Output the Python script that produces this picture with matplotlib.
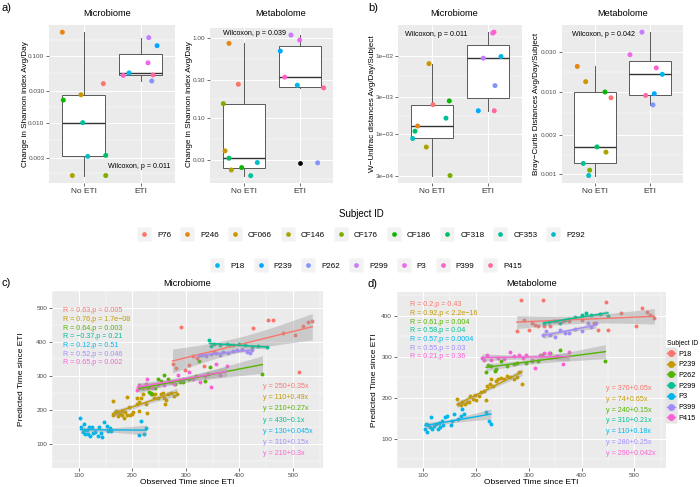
import numpy as np
import matplotlib.pyplot as plt
from matplotlib import cbook
from matplotlib.lines import Line2D
from matplotlib.legend_handler import HandlerTuple
from matplotlib.ticker import NullFormatter

plt.rcParams['font.family'] = ['Liberation Sans', 'DejaVu Sans']

groups = ['No ETI', 'ETI']
subjects = ['P76', 'P246', 'CF066', 'CF146', 'CF176', 'CF186', 'CF318', 'CF353', 'P292',
            'P18', 'P239', 'P262', 'P299', 'P3', 'P399', 'P415']
no_eti = subjects[:9]
eti = subjects[9:]

# a) change in Shannon index, per subject (order of `subjects`), plus jittered x
a_mic_val = [0.0385, 0.228, 0.0262, 0.00161, 0.00161, 0.0218, 0.00323, 0.010, 0.00312,
             0.0558, 0.143, 0.0422, 0.189, 0.079, 0.0511, 0.052]
a_mic_x = [1.346, 0.628, 0.955, 0.803, 1.388, 0.645, 1.388, 0.985, 1.073,
           1.796, 2.286, 2.193, 2.141, 2.128, 1.696, 2.216]
a_met_val = [0.264, 0.857, 0.0388, 0.0224, 0.151, 0.024, 0.0314, 0.019, 0.0277,
             0.257, 0.687, 0.0275, 1.09, 0.944, 0.324, 0.238]
a_met_x = [0.905, 0.739, 0.668, 0.78, 0.638, 0.965, 0.739, 1.126, 1.244,
           1.958, 1.654, 2.321, 1.845, 2.0, 1.733, 2.428]
# b) distances
b_mic_val = [0.00239, 0.00128, 0.00795, 0.000691, 0.0003, 0.00267, 0.0011, 0.00161, 0.000888,
             0.0098, 0.002, 0.00418, 0.00933, 0.01945, 0.02, 0.002]
b_mic_x = [1.019, 0.746, 0.947, 0.899, 1.322, 1.309, 0.698, 1.25, 0.657,
           2.231, 1.826, 2.124, 1.915, 2.083, 2.106, 2.111]
b_met_val = [0.00843, 0.0202, 0.0132, 0.00185, 0.00112, 0.0099, 0.00214, 0.00135, 0.000964,
             0.0162, 0.00944, 0.00691, 0.0525, 0.028, 0.0194, 0.009]
b_met_x = [1.292, 0.682, 0.834, 1.201, 0.906, 1.183, 1.038, 0.791, 0.888,
           2.219, 2.075, 2.051, 1.852, 1.635, 2.111, 1.919]

# c) microbiome: observed vs predicted time since ETI
c_obs = {
    'P18': [275, 282, 291, 298, 305, 313, 320, 326, 333, 352, 426, 454, 463, 481, 504, 511, 519, 528, 536],
    'P239': [163, 163, 167, 170, 173, 174, 177, 180, 181, 184, 187, 190, 190, 193, 196, 199, 202, 208, 209, 212,
             213, 216, 219, 225, 228, 228, 234, 240, 242, 248, 254, 257, 260, 261, 263, 266, 272, 277, 283],
    'P262': [213, 219, 231, 234, 237, 231, 242, 248, 254, 260, 266, 272, 280, 289, 295, 306, 318, 324, 336, 341, 345, 443],
    'P299': [344, 346, 353, 364, 376, 382, 388, 399, 411, 423, 434, 452],
    'P3': [103, 105, 107, 109, 110, 112, 116, 117, 119, 121, 125, 127, 131, 135, 138, 141, 144, 148, 152, 155,
           158, 161, 213, 216, 222, 226],
    'P399': [324, 330, 338, 347, 356, 364, 370, 379, 388, 396, 405, 414, 420, 423],
    'P415': [209, 213, 219, 225, 228, 237, 248, 260, 271, 277, 286, 295, 306, 314, 326, 335, 347, 356, 364, 376],
}
c_pred = {
    'P18': [337, 325, 444, 318, 333, 358, 352, 363, 330, 372, 440, 464, 464, 426, 422, 311, 448, 458, 462],
    'P239': [228, 187, 192, 196, 194, 183, 190, 185, 196, 178, 194, 187, 239, 210, 187, 190, 194, 219, 235, 223,
             196, 237, 246, 219, 264, 192, 246, 237, 246, 237, 246, 250, 237, 219, 230, 246, 250, 241, 246],
    'P262': [264, 264, 268, 250, 246, 253, 264, 291, 286, 304, 291, 282, 277, 282, 282, 291, 300, 345, 286, 305, 327, 305],
    'P299': [406, 387, 395, 390, 395, 390, 392, 395, 390, 386, 388, 385],
    'P3': [177, 149, 136, 142, 158, 129, 142, 129, 149, 123, 151, 133, 136, 124, 151, 133, 120, 165, 153, 138,
           147, 138, 127, 169, 129, 147],
    'P399': [361, 363, 359, 365, 368, 363, 372, 368, 374, 377, 381, 372, 368, 377],
    'P415': [259, 275, 268, 277, 291, 266, 273, 275, 282, 277, 304, 291, 313, 291, 284, 300, 268, 337, 304, 331],
}
c_rlab = ['R = 0.63,p = 0.005', 'R = 0.76,p = 1.7e\u221208', 'R = 0.64,p = 0.003', 'R = \u22120.37,p = 0.21',
          'R = 0.12,p = 0.51', 'R = 0.52,p = 0.046', 'R = 0.65,p = 0.002']
c_eqlab = ['y = 250+0.35x', 'y = 110+0.49x', 'y = 210+0.27x', 'y = 430\u22120.1x',
           'y = 130+0.045x', 'y = 310+0.15x', 'y = 210+0.3x']

# d) metabolome
d_obs = {
    'P18': [277, 285, 291, 300, 306, 312, 318, 326, 329, 341, 353, 365, 377, 400, 424, 432, 447, 450, 474, 503,
            515, 524, 529, 538],
    'P239': [164, 166, 171, 174, 178, 182, 187, 189, 194, 197, 200, 206, 209, 215, 218, 221, 227, 229, 232, 238,
             241, 247, 253, 259, 264, 271, 277, 282, 287],
    'P262': [219, 222, 229, 235, 238, 247, 259, 271, 277, 294, 306, 318, 324, 341, 359, 445],
    'P299': [329, 338, 347, 359, 368, 377, 388, 400, 409, 418, 435, 450],
    'P3': [103, 105, 107, 109, 112, 115, 117, 121, 124, 127, 129, 132, 135, 138, 141, 144, 152, 154, 159, 165,
           171, 174, 177, 218, 224, 228],
    'P399': [327, 332, 341, 350, 359, 368, 377, 388, 400, 412, 418, 427],
    'P415': [211, 215, 221, 229, 241, 253, 265, 271, 282, 288, 294, 306, 312, 321, 329, 338, 353, 365, 377],
}
d_pred = {
    'P18': [362, 438, 390, 366, 382, 378, 374, 438, 375, 374, 386, 388, 386, 390, 382, 366, 434, 364, 406, 375,
            418, 410, 402, 394],
    'P239': [197, 185, 182, 189, 185, 190, 189, 203, 197, 206, 193, 205, 213, 217, 194, 229, 234, 245, 229, 241,
             246, 249, 246, 253, 251, 245, 251, 263, 233],
    'P262': [262, 279, 277, 265, 269, 289, 277, 281, 285, 285, 289, 289, 305, 309, 316, 289],
    'P299': [382, 384, 386, 383, 390, 391, 396, 403, 407, 402, 404, 399],
    'P3': [124, 136, 116, 132, 128, 152, 124, 131, 136, 124, 139, 128, 144, 132, 152, 156, 132, 144, 160, 148,
           156, 172, 160, 164, 144, 136],
    'P399': [353, 362, 353, 349, 366, 359, 358, 367, 362, 382, 372, 382],
    'P415': [297, 293, 305, 293, 297, 295, 311, 301, 305, 297, 305, 293, 273, 305, 309, 309, 301, 281, 311],
}
d_rlab = ['R = 0.2,p = 0.43', 'R = 0.92,p < 2.2e\u221216', 'R = 0.61,p = 0.004', 'R = 0.58,p = 0.04',
          'R = 0.57,p = 0.0004', 'R = 0.55,p = 0.03', 'R = 0.21,p = 0.36']
d_eqlab = ['y = 370+0.05x', 'y = 74+0.65x', 'y = 240+0.15x', 'y = 310+0.21x',
           'y = 110+0.18x', 'y = 280+0.25x', 'y = 290+0.042x']


def hue_pal(n, l=65, c=100):
    # ggplot2 default hue palette (HCL, polar Luv -> sRGB)
    h = np.deg2rad(np.linspace(15, 375, n + 1)[:-1])
    Y = 100 * ((l + 16) / 116) ** 3
    xn, yn, zn = 95.047, 100.0, 108.883
    un = 4 * xn / (xn + 15 * yn + 3 * zn)
    vn = 9 * yn / (xn + 15 * yn + 3 * zn)
    up = c * np.cos(h) / (13 * l) + un
    vp = c * np.sin(h) / (13 * l) + vn
    X = 9 * Y * up / (4 * vp)
    Z = Y * (12 - 3 * up - 20 * vp) / (4 * vp)
    m = np.array([[3.2404542, -1.5371385, -0.4985314],
                  [-0.9692660, 1.8760108, 0.0415560],
                  [0.0556434, -0.2040259, 1.0572252]])
    rgb = m @ np.vstack([X, np.full_like(X, Y), Z]) / 100
    rgb = np.where(rgb > 0.0031308, 1.055 * np.abs(rgb) ** (1 / 2.4) - 0.055, 12.92 * rgb)
    return [tuple(col) for col in np.clip(rgb, 0, 1).T]


pal16 = dict(zip(subjects, hue_pal(16)))
pal7 = dict(zip(eti, hue_pal(7)))

W, H = 700, 487
fig = plt.figure(figsize=(7, 4.87), dpi=100)


def rect_px(l, t, r, b):
    return [l / W, 1 - b / H, (r - l) / W, (b - t) / H]


def ftext(x, y, s, **kw):
    kw.setdefault('ha', 'center')
    kw.setdefault('va', 'center')
    fig.text(x / W, 1 - y / H, s, **kw)


def gg_style(ax):
    ax.set_facecolor('#EBEBEB')
    for sp in ax.spines.values():
        sp.set_visible(False)
    ax.grid(True, which='major', color='white', lw=0.75)
    ax.grid(True, which='minor', color='white', lw=0.35)
    ax.set_axisbelow(True)
    ax.tick_params(which='major', length=2, width=0.5, color='#333333',
                   labelsize=4.6, labelcolor='#4D4D4D', pad=1.5)
    ax.tick_params(which='minor', length=0)


def t975(df):
    z = 1.959964
    g1 = (z ** 3 + z) / 4
    g2 = (5 * z ** 5 + 16 * z ** 3 + 3 * z) / 96
    g3 = (3 * z ** 7 + 19 * z ** 5 + 17 * z ** 3 - 15 * z) / 384
    return z + g1 / df + g2 / df ** 2 + g3 / df ** 3


def box_panel(rect, vals, xs, ticks, labels):
    ax = fig.add_axes(rect_px(*rect))
    gg_style(ax)
    ax.set_yscale('log')
    v = np.array(vals)
    lv = np.log10(v)
    span = lv.max() - lv.min()
    for gi, names in enumerate([no_eti, eti]):
        idx = [subjects.index(s) for s in names]
        st = cbook.boxplot_stats(lv[idx], whis=1.5)[0]
        for k in ('med', 'q1', 'q3', 'whislo', 'whishi', 'mean', 'cilo', 'cihi'):
            st[k] = 10 ** st[k]
        st['fliers'] = 10 ** np.asarray(st['fliers'])
        ax.bxp([st], positions=[gi + 1], widths=0.75, patch_artist=True, showcaps=False,
               showfliers=True, manage_ticks=False,
               boxprops=dict(facecolor='white', edgecolor='#595959', lw=0.7),
               medianprops=dict(color='#333333', lw=1.0),
               whiskerprops=dict(color='#595959', lw=0.7),
               flierprops=dict(marker='o', ms=3.4, mfc='black', mec='none'))
    ax.scatter(xs, v, c=[pal16[s] for s in subjects], s=13, lw=0, zorder=3)
    ax.set_xlim(0.4, 2.6)
    ax.set_xticks([1, 2], groups)
    ax.tick_params(axis='x', labelsize=6, labelcolor='#333333')
    lt = np.log10(ticks)
    minors = 10 ** ((lt[1:] + lt[:-1]) / 2)
    ax.set_yticks(ticks[1:-1], labels)
    ax.set_yticks(minors, minor=True)
    ax.yaxis.set_minor_formatter(NullFormatter())
    ax.set_ylim(10 ** (lv.min() - 0.05 * span), 10 ** (lv.max() + 0.05 * span))
    return ax


def fit_panel(rect, obs, pred, xlim, ylim, yticks):
    ax = fig.add_axes(rect_px(*rect))
    gg_style(ax)
    for s in eti:
        ax.scatter(obs[s], pred[s], s=8, color=pal7[s], lw=0, zorder=2)
    for s in eti:
        x = np.array(obs[s], float)
        y = np.array(pred[s], float)
        b1, b0 = np.polyfit(x, y, 1)
        xx = np.linspace(x.min(), x.max(), 80)
        yy = b0 + b1 * xx
        n = len(x)
        s_err = np.sqrt(np.sum((y - b0 - b1 * x) ** 2) / (n - 2))
        se = s_err * np.sqrt(1 / n + (xx - x.mean()) ** 2 / np.sum((x - x.mean()) ** 2))
        t = t975(n - 2)
        ax.fill_between(xx, yy - t * se, yy + t * se, color='#999999', alpha=0.4, lw=0, zorder=3)
        ax.plot(xx, yy, color=pal7[s], lw=1.0, zorder=4)
    ax.set_xlim(*xlim)
    ax.set_ylim(*ylim)
    ax.set_xticks([100, 200, 300, 400, 500])
    ax.set_xticks(np.arange(50, 600, 100), minor=True)
    ax.set_yticks(yticks)
    ax.set_yticks(np.arange(50, yticks[-1] + 100, 100), minor=True)
    return ax


# ---- top row: boxplots
box_panel((49.3, 25, 175, 182.7), a_mic_val, a_mic_x,
          [0.001, 0.003, 0.01, 0.03, 0.1, 0.3], ['0.003', '0.010', '0.030', '0.100'])
box_panel((210, 28, 333.3, 182.7), a_met_val, a_met_x,
          [0.01, 0.03, 0.1, 0.3, 1.0, 3.0], ['0.03', '0.10', '0.30', '1.00'])
box_panel((398.3, 25, 521.7, 182.7), b_mic_val, b_mic_x,
          [1e-4, 3e-4, 1e-3, 3e-3, 1e-2, 3e-2], ['3e\u221204', '1e\u221203', '3e\u221203', '1e\u221202'])
box_panel((561.7, 25, 683.3, 182.7), b_met_val, b_met_x,
          [0.0003, 0.001, 0.003, 0.01, 0.03, 0.1], ['0.001', '0.003', '0.010', '0.030'])

for x, s in [(107, 'Microbiome'), (281, 'Metabolome'), (454, 'Microbiome'), (623, 'Metabolome')]:
    ftext(x, 14, s, fontsize=6.7)
ylab_a = 'Change in Shannon index Avg/Day'
ftext(25.5, 104, ylab_a, rotation=90, fontsize=5.9)
ftext(190, 104, ylab_a, rotation=90, fontsize=5.9)
ftext(372.5, 104, 'W\u2212Unifrac distances Avg/Day/Subject', rotation=90, fontsize=5.9)
ftext(536, 104, 'Bray\u2212Curtis Distances Avg/Day/Subject', rotation=90, fontsize=5.9)
ftext(108, 166, 'Wilcoxon, p = 0.011', ha='left', fontsize=5.1)
ftext(223, 33, 'Wilcoxon, p = 0.039', ha='left', fontsize=5.1)
ftext(405, 34, 'Wilcoxon, p = 0.011', ha='left', fontsize=5.1)
ftext(571.7, 34, 'Wilcoxon, p = 0.042', ha='left', fontsize=5.1)
ftext(1, 8, 'a)', ha='left', fontsize=8)
ftext(368, 8, 'b)', ha='left', fontsize=8)

# ---- shared legend for the boxplots
hmap = {tuple: HandlerTuple(ndivide=1)}


def dot_key(c):
    return (Line2D([], [], ls='', marker='s', ms=10, mfc='#F2F2F2', mec='none'),
            Line2D([], [], ls='', marker='o', ms=3.4, mfc=c, mec='none'))


leg_kw = dict(loc='center', frameon=False, fontsize=5.8, handlelength=1.8, handletextpad=0.7,
              columnspacing=1.1, borderpad=0, handler_map=hmap)
fig.legend([dot_key(pal16[s]) for s in no_eti], no_eti, ncol=len(no_eti),
           bbox_to_anchor=(361 / W, 1 - 235 / H), **leg_kw)
fig.legend([dot_key(pal16[s]) for s in eti], eti, ncol=len(eti),
           bbox_to_anchor=(366 / W, 1 - 266 / H), **leg_kw)
ftext(361, 214, 'Subject ID', fontsize=7)

# ---- bottom row: predicted vs observed
axc = fit_panel((52, 291, 323, 468), c_obs, c_pred, (83, 556), (30, 505), [100, 200, 300, 400, 500])
axd = fit_panel((397, 292, 666, 468), d_obs, d_pred, (82, 560), (28, 458), [100, 200, 300, 400])

for i, s in enumerate(eti):
    ftext(63.3, 310.7 + 8.67 * i, c_rlab[i], ha='left', fontsize=5.1, color=pal7[s])
    ftext(263, 386.7 + 11.1 * i, c_eqlab[i], ha='left', fontsize=5.1, color=pal7[s])
    ftext(410, 305 + 8.6 * i, d_rlab[i], ha='left', fontsize=5.1, color=pal7[s])
    ftext(606, 388.3 + 10.9 * i, d_eqlab[i], ha='left', fontsize=5.1, color=pal7[s])

ftext(187.5, 283, 'Microbiome', fontsize=6.7)
ftext(531.5, 283, 'Metabolome', fontsize=6.7)
ftext(21.7, 379.5, 'Predicted Time since ETI', rotation=90, fontsize=6)
ftext(375, 380, 'Predicted Time since ETI', rotation=90, fontsize=6)
ftext(187.5, 482.7, 'Observed Time since ETI', fontsize=6)
ftext(531.5, 482.7, 'Observed Time since ETI', fontsize=6)
ftext(1, 283, 'c)', ha='left', fontsize=8)
ftext(368, 284, 'd)', ha='left', fontsize=8)


def line_key(c):
    return (Line2D([], [], ls='', marker='s', ms=8, mfc='#E5E5E5', mec='none'),
            Line2D([], [], color=c, lw=1.0),
            Line2D([], [], ls='', marker='o', ms=5, mfc=c, mec='none'))


fig.legend([line_key(pal7[s]) for s in eti], eti, loc='upper left',
           bbox_to_anchor=(667 / W, 1 - 340 / H), title='Subject ID', title_fontsize=4.9,
           fontsize=5.3, frameon=False, borderpad=0, borderaxespad=0, handlelength=1.1,
           handletextpad=0.5, labelspacing=0.48, alignment='left', handler_map=hmap)

fig.savefig('out.png', dpi=100)
